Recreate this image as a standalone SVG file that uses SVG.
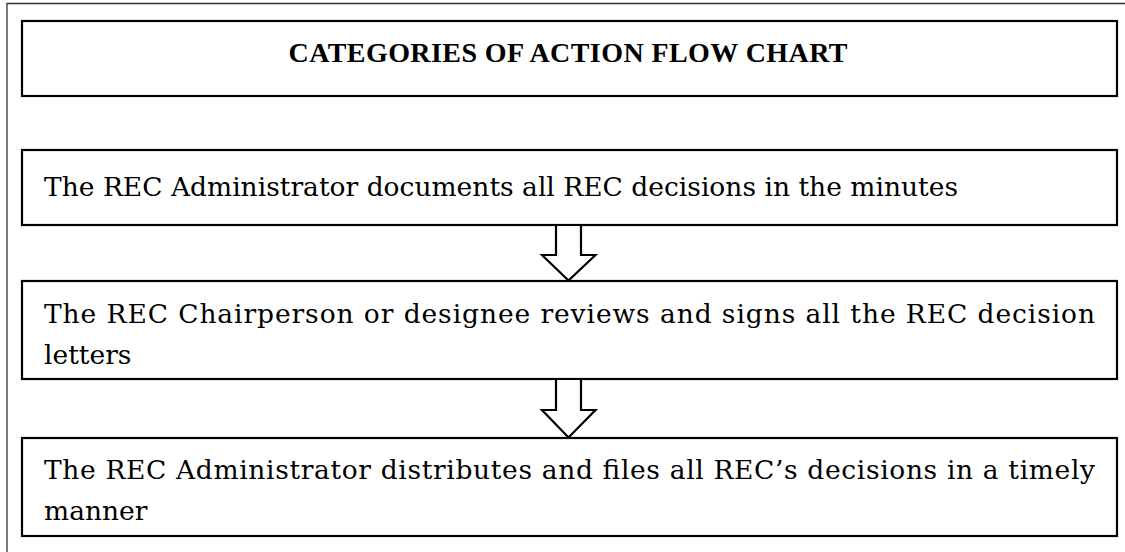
<svg xmlns="http://www.w3.org/2000/svg" width="1125" height="552" viewBox="0 0 1125 552">
<style>
.box{fill:#fff;stroke:#000;stroke-width:2.2}
.t{font-family:"DejaVu Serif","Liberation Serif",serif;font-size:26.5px;fill:#000}
.h{font-family:"Liberation Serif","DejaVu Serif",serif;font-size:28px;font-weight:bold;fill:#000}
.arr{fill:#fff;stroke:#000;stroke-width:2.2;stroke-linejoin:miter}
.frame{fill:none;stroke:#333;stroke-width:1.3}
</style>
<rect width="1125" height="552" fill="#fff"/>
<g id="frame"><path class="frame" d="M7,552 V3.5 H1125"/></g>
<g id="title">
<rect class="box" x="22" y="21" width="1095" height="75"/>
<text class="h" x="568" y="62" text-anchor="middle" textLength="559">CATEGORIES OF ACTION FLOW CHART</text>
</g>
<g id="step1">
<rect class="box" x="22" y="150" width="1095" height="75"/>
<text class="t" x="44" y="196" textLength="914">The REC Administrator documents all REC decisions in the minutes</text>
</g>
<g id="step2">
<rect class="box" x="22" y="281" width="1095" height="98"/>
<text class="t" x="44" y="323" textLength="1051">The REC Chairperson or designee reviews and signs all the REC decision</text>
<text class="t" x="44" y="364">letters</text>
</g>
<g id="step3">
<rect class="box" x="22" y="438" width="1095" height="98"/>
<text class="t" x="44" y="479" textLength="1051">The REC Administrator distributes and files all REC’s decisions in a timely</text>
<text class="t" x="44" y="520">manner</text>
</g>
<g id="connectors">
<path class="arr" d="M556,225 V255 H542 L568.5,280.5 L595.5,255 H581 V225 Z"/>
<path class="arr" d="M556,379 V410 H542 L568.5,437.5 L595.5,410 H581 V379 Z"/>
</g>
</svg>
